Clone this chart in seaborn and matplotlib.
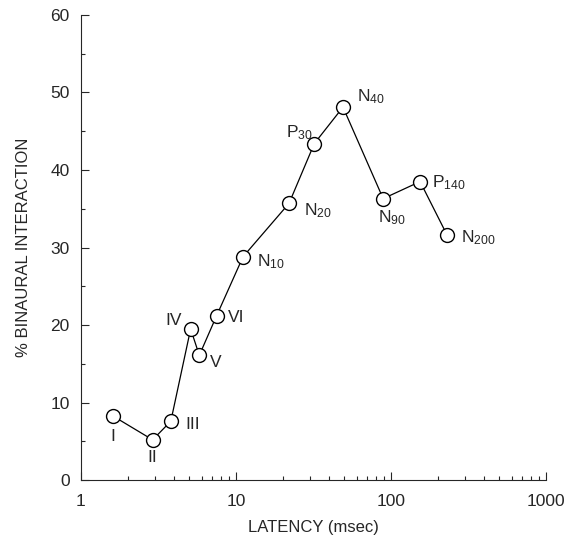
import numpy as np
import pandas as pd
import matplotlib
matplotlib.use("Agg")
import matplotlib.pyplot as plt
import matplotlib.ticker as ticker
import seaborn as sns

# data
latency = [1.6, 2.9, 3.8, 5.1, 5.8, 7.5, 11.1, 22.0, 32.0, 49.0, 89.0, 154.0, 230.0]
binaural = [8.3, 5.2, 7.6, 19.5, 16.1, 21.2, 28.8, 35.7, 43.4, 48.1, 36.3, 38.5, 31.6]
names = ["I", "II", "III", "IV", "V", "VI",
         r"$\mathregular{N_{10}}$", r"$\mathregular{N_{20}}$", r"$\mathregular{P_{30}}$",
         r"$\mathregular{N_{40}}$", r"$\mathregular{N_{90}}$", r"$\mathregular{P_{140}}$",
         r"$\mathregular{N_{200}}$"]
# label placement (pixels offset, alignment)
offs = [(0, -21, "center"), (0, -18, "center"), (15, -3, "left"), (-9, 8, "right"),
        (11, -7, "left"), (11, -2, "left"), (14, -5, "left"), (15, -7, "left"),
        (-1, 11, "right"), (14, 10, "left"), (9, -19, "center"), (12, -1, "left"),
        (14, -3, "left")]

df = pd.DataFrame({"latency": latency, "binaural": binaural})

sns.set_style("ticks")
plt.rcParams['font.family'] = ['Liberation Sans', 'DejaVu Sans']
plt.rcParams['mathtext.fontset'] = 'custom'
plt.rcParams['mathtext.rm'] = 'Liberation Sans'

fig = plt.figure(figsize=(5.7, 5.5), dpi=100)
ax = fig.add_axes([0.142, 0.127, 0.816, 0.846])

sns.lineplot(data=df, x="latency", y="binaural", ax=ax, color="black", lw=0.9,
             marker="o", markersize=10, markerfacecolor="white",
             markeredgecolor="black", markeredgewidth=1.0, sort=False)

for x, y, t, (dx, dy, ha) in zip(latency, binaural, names, offs):
    ax.annotate(t, (x, y), xytext=(dx, dy), textcoords="offset pixels",
                ha=ha, va="center", fontsize=12.5)

ax.set_xscale("log")
ax.set_xlim(1, 1000)
ax.set_ylim(0, 60)
ax.set_xticks([1, 10, 100, 1000])
ax.set_xticklabels(["1", "10", "100", "1000"])
ax.xaxis.set_minor_locator(ticker.LogLocator(base=10, subs=np.arange(2, 10)))
ax.xaxis.set_minor_formatter(ticker.NullFormatter())
ax.set_yticks(np.arange(0, 61, 10))
ax.yaxis.set_minor_locator(ticker.MultipleLocator(5))

ax.tick_params(which="both", direction="in", labelsize=12.5, width=0.8)
ax.tick_params(axis="x", which="major", length=6, pad=10)
ax.tick_params(axis="x", which="minor", length=3)
ax.tick_params(axis="y", which="major", length=6, pad=8)
ax.tick_params(axis="y", which="minor", length=3)

for s in ["top", "right"]:
    ax.spines[s].set_visible(False)
for s in ["left", "bottom"]:
    ax.spines[s].set_linewidth(0.8)

ax.set_xlabel("LATENCY (msec)", fontsize=12, labelpad=8)
ax.set_ylabel("% BINAURAL INTERACTION", fontsize=12, labelpad=14)

fig.savefig("out.png", dpi=100)
